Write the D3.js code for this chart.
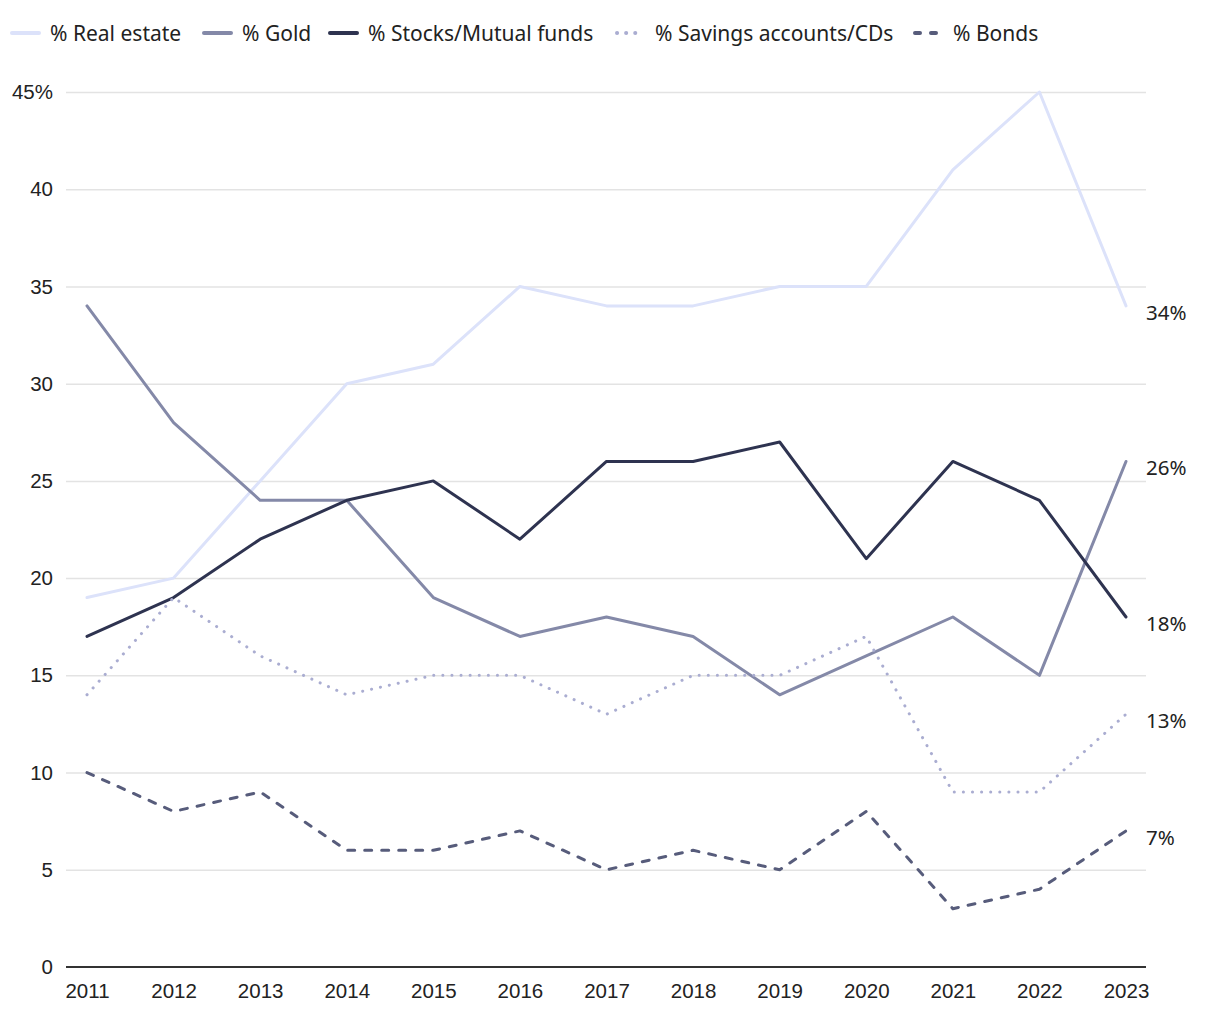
<!DOCTYPE html>
<html>
<head>
<meta charset="utf-8">
<script src="https://cdn.jsdelivr.net/npm/d3@7"></script>
<style>
  body { margin: 0; background: #fff; }
  svg { font-family: "Noto Sans", "Open Sans", sans-serif; }
  .grid line { stroke: #e3e3e3; stroke-width: 1.5; }
  .tick text { fill: #222; font-size: 20.5px; }
</style>
</head>
<body>
<svg id="chart" width="1220" height="1020"></svg>
<script>
const years = [2011, 2012, 2013, 2014, 2015, 2016, 2017, 2018, 2019, 2020, 2021, 2022, 2023];
const realEstate = [19, 20, 25, 30, 31, 35, 34, 34, 35, 35, 41, 45, 34];
const gold = [34, 28, 24, 24, 19, 17, 18, 17, 14, 16, 18, 15, 26];
const stocks = [17, 19, 22, 24, 25, 22, 26, 26, 27, 21, 26, 24, 18];
const savings = [14, 19, 16, 14, 15, 15, 13, 15, 15, 17, 9, 9, 13];
const bonds = [10, 8, 9, 6, 6, 7, 5, 6, 5, 8, 3, 4, 7];
const yTicks = [0, 5, 10, 15, 20, 25, 30, 35, 40, 45];

const series = [
    { name: "% Real estate", values: realEstate, color: "#dce2fa", dash: null },
    { name: "% Gold", values: gold, color: "#8489a8", dash: null },
    { name: "% Stocks/Mutual funds", values: stocks, color: "#2e3350", dash: null },
    { name: "% Savings accounts/CDs", values: savings, color: "#aaadd1", dash: "0.1 9" },
    { name: "% Bonds", values: bonds, color: "#575c7b", dash: "7 10" }
];

const margin = { top: 92, right: 74, bottom: 53, left: 66 };
const width = 1220, height = 1020;
const svg = d3.select("#chart");

let x = d3.scalePoint().domain(years).range([87, 1126]);
let y = d3.scaleLinear().domain([0, 45]).range([height - margin.bottom, margin.top]);

// grid + y labels
let yAxis = d3.axisLeft(y)
        .tickValues(yTicks)
        .tickSize(-(width - margin.right - margin.left))
        .tickPadding(13)
        .tickFormat(d => d === 45 ? "45%" : d);

svg.append("g")
        .attr("class", "grid")
        .attr("transform", `translate(${margin.left},0)`)
        .call(yAxis)
        .call(g => g.select(".domain").remove())
        .call(g => g.selectAll(".tick").filter(d => d === 0).select("line").remove());

// x axis
svg.append("g")
        .attr("transform", `translate(0,${height - margin.bottom})`)
        .call(d3.axisBottom(x).tickSize(0).tickPadding(16).tickFormat(d3.format("d")))
        .call(g => g.select(".domain").remove());

svg.append("line")
        .attr("x1", margin.left).attr("x2", width - margin.right)
        .attr("y1", y(0)).attr("y2", y(0))
        .attr("stroke", "#333").attr("stroke-width", 2);

let line = d3.line()
        .x((d, i) => x(years[i]))
        .y(d => y(d));

svg.append("g")
        .selectAll("path")
        .data(series)
        .join("path")
        .attr("d", d => line(d.values))
        .attr("fill", "none")
        .attr("stroke", d => d.color)
        .attr("stroke-width", 3)
        .attr("stroke-linecap", "round")
        .attr("stroke-linejoin", "round")
        .attr("stroke-dasharray", d => d.dash);

// end labels
svg.append("g")
        .selectAll("text")
        .data(series)
        .join("text")
        .attr("x", width - margin.right)
        .attr("y", d => y(d.values[d.values.length - 1]) + 14)
        .attr("fill", "#222")
        .style("font-size", "20.5px")
        .text(d => d.values[d.values.length - 1] + "%");

// legend
let legendX = [10, 202, 328, 615, 913];
let legend = svg.append("g")
        .selectAll("g")
        .data(series)
        .join("g")
        .attr("transform", (d, i) => `translate(${legendX[i]},33)`);

legend.append("line")
        .attr("x1", 2).attr("x2", 29)
        .attr("stroke", d => d.color)
        .attr("stroke-width", 4)
        .attr("stroke-linecap", "round")
        .attr("stroke-dasharray", d => d.dash ? (d.dash === "7 10" ? "5 11" : "0.1 9") : null);

legend.append("text")
        .attr("x", 40)
        .attr("y", 7.5)
        .attr("fill", "#222")
        .style("font-size", "21px")
        .text(d => d.name);
</script>
</body>
</html>
